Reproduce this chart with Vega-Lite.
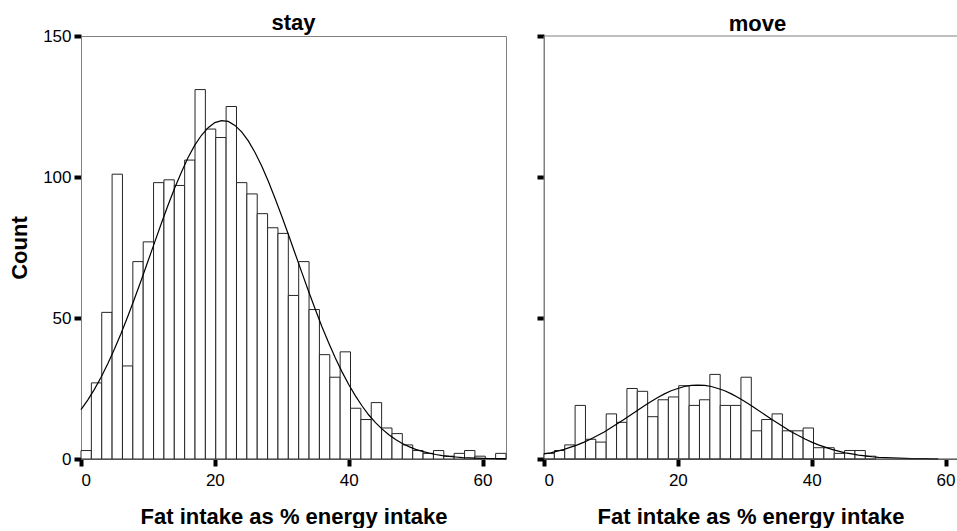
{
  "$schema": "https://vega.github.io/schema/vega-lite/v6.json",
  "padding": {"left": 8, "top": 11, "right": 0, "bottom": 0},
  "autosize": {"type": "pad"},
  "background": "white",
  "spacing": 26,
  "config": {
    "font": "Liberation Sans",
    "view": {"stroke": "#808080", "strokeWidth": 1},
    "title": {"font": "Liberation Sans", "fontSize": 22, "fontWeight": "bold", "color": "black", "anchor": "middle", "baseline": "alphabetic", "offset": -8, "frame": "group"},
    "axis": {
      "labelFont": "Liberation Sans", "labelFontSize": 17, "labelColor": "black",
      "titleFont": "Liberation Sans", "titleFontSize": 22, "titleFontWeight": "bold", "titleColor": "black",
      "tickColor": "black", "tickWidth": 4, "tickSize": 7,
      "domain": true, "domainColor": "#808080", "domainWidth": 1, "grid": false
    },
    "axisX": {"labelPadding": 6, "titlePadding": 18, "labelAngle": 0},
    "axisY": {"labelPadding": 3, "titlePadding": 11}
  },
  "datasets": {
    "bars": [
      {"g": "stay", "a": 0, "b": 1.549, "n": 3},
      {"g": "stay", "a": 1.549, "b": 3.098, "n": 27},
      {"g": "stay", "a": 3.098, "b": 4.646, "n": 52},
      {"g": "stay", "a": 4.646, "b": 6.195, "n": 101},
      {"g": "stay", "a": 6.195, "b": 7.744, "n": 33},
      {"g": "stay", "a": 7.744, "b": 9.293, "n": 70},
      {"g": "stay", "a": 9.293, "b": 10.841, "n": 77},
      {"g": "stay", "a": 10.841, "b": 12.39, "n": 98},
      {"g": "stay", "a": 12.39, "b": 13.939, "n": 99},
      {"g": "stay", "a": 13.939, "b": 15.488, "n": 97},
      {"g": "stay", "a": 15.488, "b": 17.037, "n": 106},
      {"g": "stay", "a": 17.037, "b": 18.585, "n": 131},
      {"g": "stay", "a": 18.585, "b": 20.134, "n": 117},
      {"g": "stay", "a": 20.134, "b": 21.683, "n": 114},
      {"g": "stay", "a": 21.683, "b": 23.232, "n": 125},
      {"g": "stay", "a": 23.232, "b": 24.78, "n": 98},
      {"g": "stay", "a": 24.78, "b": 26.329, "n": 94},
      {"g": "stay", "a": 26.329, "b": 27.878, "n": 87},
      {"g": "stay", "a": 27.878, "b": 29.427, "n": 82},
      {"g": "stay", "a": 29.427, "b": 30.976, "n": 80},
      {"g": "stay", "a": 30.976, "b": 32.524, "n": 58},
      {"g": "stay", "a": 32.524, "b": 34.073, "n": 70},
      {"g": "stay", "a": 34.073, "b": 35.622, "n": 53},
      {"g": "stay", "a": 35.622, "b": 37.171, "n": 37},
      {"g": "stay", "a": 37.171, "b": 38.72, "n": 29},
      {"g": "stay", "a": 38.72, "b": 40.268, "n": 38},
      {"g": "stay", "a": 40.268, "b": 41.817, "n": 18},
      {"g": "stay", "a": 41.817, "b": 43.366, "n": 14},
      {"g": "stay", "a": 43.366, "b": 44.915, "n": 20},
      {"g": "stay", "a": 44.915, "b": 46.463, "n": 11},
      {"g": "stay", "a": 46.463, "b": 48.012, "n": 9},
      {"g": "stay", "a": 48.012, "b": 49.561, "n": 5},
      {"g": "stay", "a": 49.561, "b": 51.11, "n": 3},
      {"g": "stay", "a": 51.11, "b": 52.659, "n": 2},
      {"g": "stay", "a": 52.659, "b": 54.207, "n": 3},
      {"g": "stay", "a": 54.207, "b": 55.756, "n": 1},
      {"g": "stay", "a": 55.756, "b": 57.305, "n": 2},
      {"g": "stay", "a": 57.305, "b": 58.854, "n": 3},
      {"g": "stay", "a": 58.854, "b": 60.402, "n": 1},
      {"g": "stay", "a": 61.951, "b": 63.5, "n": 2},
      {"g": "move", "a": 0, "b": 1.549, "n": 2},
      {"g": "move", "a": 1.549, "b": 3.098, "n": 3},
      {"g": "move", "a": 3.098, "b": 4.646, "n": 5},
      {"g": "move", "a": 4.646, "b": 6.195, "n": 19},
      {"g": "move", "a": 6.195, "b": 7.744, "n": 7},
      {"g": "move", "a": 7.744, "b": 9.293, "n": 6},
      {"g": "move", "a": 9.293, "b": 10.841, "n": 16},
      {"g": "move", "a": 10.841, "b": 12.39, "n": 13},
      {"g": "move", "a": 12.39, "b": 13.939, "n": 25},
      {"g": "move", "a": 13.939, "b": 15.488, "n": 24},
      {"g": "move", "a": 15.488, "b": 17.037, "n": 15},
      {"g": "move", "a": 17.037, "b": 18.585, "n": 21},
      {"g": "move", "a": 18.585, "b": 20.134, "n": 22},
      {"g": "move", "a": 20.134, "b": 21.683, "n": 26},
      {"g": "move", "a": 21.683, "b": 23.232, "n": 19},
      {"g": "move", "a": 23.232, "b": 24.78, "n": 21},
      {"g": "move", "a": 24.78, "b": 26.329, "n": 30},
      {"g": "move", "a": 26.329, "b": 27.878, "n": 19},
      {"g": "move", "a": 27.878, "b": 29.427, "n": 19},
      {"g": "move", "a": 29.427, "b": 30.976, "n": 29},
      {"g": "move", "a": 30.976, "b": 32.524, "n": 10},
      {"g": "move", "a": 32.524, "b": 34.073, "n": 14},
      {"g": "move", "a": 34.073, "b": 35.622, "n": 16},
      {"g": "move", "a": 35.622, "b": 37.171, "n": 10},
      {"g": "move", "a": 37.171, "b": 38.72, "n": 10},
      {"g": "move", "a": 38.72, "b": 40.268, "n": 11},
      {"g": "move", "a": 40.268, "b": 41.817, "n": 4},
      {"g": "move", "a": 41.817, "b": 43.366, "n": 4},
      {"g": "move", "a": 43.366, "b": 44.915, "n": 2},
      {"g": "move", "a": 44.915, "b": 46.463, "n": 3},
      {"g": "move", "a": 46.463, "b": 48.012, "n": 3},
      {"g": "move", "a": 48.012, "b": 49.561, "n": 1}
    ],
    "curve": [
      {"g": "stay", "x": 0, "y": 17.5}, {"g": "stay", "x": 1, "y": 20.9}, {"g": "stay", "x": 2, "y": 24.7}, {"g": "stay", "x": 3, "y": 29.0},
      {"g": "stay", "x": 4, "y": 33.8}, {"g": "stay", "x": 5, "y": 39.0}, {"g": "stay", "x": 6, "y": 44.6}, {"g": "stay", "x": 7, "y": 50.6},
      {"g": "stay", "x": 8, "y": 56.9}, {"g": "stay", "x": 9, "y": 63.4}, {"g": "stay", "x": 10, "y": 70.1}, {"g": "stay", "x": 11, "y": 76.8},
      {"g": "stay", "x": 12, "y": 83.5}, {"g": "stay", "x": 13, "y": 90.0}, {"g": "stay", "x": 14, "y": 96.1}, {"g": "stay", "x": 15, "y": 101.7},
      {"g": "stay", "x": 16, "y": 106.9}, {"g": "stay", "x": 17, "y": 111.3}, {"g": "stay", "x": 18, "y": 114.8}, {"g": "stay", "x": 19, "y": 117.5},
      {"g": "stay", "x": 20, "y": 119.3}, {"g": "stay", "x": 21, "y": 120.0}, {"g": "stay", "x": 22, "y": 119.7}, {"g": "stay", "x": 23, "y": 118.3},
      {"g": "stay", "x": 24, "y": 116.0}, {"g": "stay", "x": 25, "y": 112.8}, {"g": "stay", "x": 26, "y": 108.7}, {"g": "stay", "x": 27, "y": 103.9},
      {"g": "stay", "x": 28, "y": 98.4}, {"g": "stay", "x": 29, "y": 92.4}, {"g": "stay", "x": 30, "y": 86.1}, {"g": "stay", "x": 31, "y": 79.5},
      {"g": "stay", "x": 32, "y": 72.8}, {"g": "stay", "x": 33, "y": 66.1}, {"g": "stay", "x": 34, "y": 59.5}, {"g": "stay", "x": 35, "y": 53.1},
      {"g": "stay", "x": 36, "y": 46.9}, {"g": "stay", "x": 37, "y": 41.2}, {"g": "stay", "x": 38, "y": 35.8}, {"g": "stay", "x": 39, "y": 30.9},
      {"g": "stay", "x": 40, "y": 26.4}, {"g": "stay", "x": 41, "y": 22.4}, {"g": "stay", "x": 42, "y": 18.8}, {"g": "stay", "x": 43, "y": 15.6},
      {"g": "stay", "x": 44, "y": 12.9}, {"g": "stay", "x": 45, "y": 10.6}, {"g": "stay", "x": 46, "y": 8.6}, {"g": "stay", "x": 47, "y": 6.9},
      {"g": "stay", "x": 48, "y": 5.5}, {"g": "stay", "x": 49, "y": 4.4}, {"g": "stay", "x": 50, "y": 3.4}, {"g": "stay", "x": 51, "y": 2.7},
      {"g": "stay", "x": 52, "y": 2.1}, {"g": "stay", "x": 53, "y": 1.6}, {"g": "stay", "x": 54, "y": 1.2}, {"g": "stay", "x": 55, "y": 0.9},
      {"g": "stay", "x": 56, "y": 0.7}, {"g": "stay", "x": 57, "y": 0.5}, {"g": "stay", "x": 58, "y": 0.4}, {"g": "stay", "x": 59, "y": 0.3},
      {"g": "stay", "x": 60, "y": 0.2}, {"g": "stay", "x": 61, "y": 0.1}, {"g": "stay", "x": 62, "y": 0.1}, {"g": "stay", "x": 63, "y": 0.1},
      {"g": "stay", "x": 63.5, "y": 0.05},
      {"g": "move", "x": 0, "y": 1.8}, {"g": "move", "x": 1, "y": 2.2}, {"g": "move", "x": 2, "y": 2.8}, {"g": "move", "x": 3, "y": 3.4},
      {"g": "move", "x": 4, "y": 4.2}, {"g": "move", "x": 5, "y": 5.0}, {"g": "move", "x": 6, "y": 6.0}, {"g": "move", "x": 7, "y": 7.1},
      {"g": "move", "x": 8, "y": 8.3}, {"g": "move", "x": 9, "y": 9.6}, {"g": "move", "x": 10, "y": 11.1}, {"g": "move", "x": 11, "y": 12.6},
      {"g": "move", "x": 12, "y": 14.1}, {"g": "move", "x": 13, "y": 15.7}, {"g": "move", "x": 14, "y": 17.3}, {"g": "move", "x": 15, "y": 18.9},
      {"g": "move", "x": 16, "y": 20.4}, {"g": "move", "x": 17, "y": 21.8}, {"g": "move", "x": 18, "y": 23.1}, {"g": "move", "x": 19, "y": 24.2},
      {"g": "move", "x": 20, "y": 25.0}, {"g": "move", "x": 21, "y": 25.7}, {"g": "move", "x": 22, "y": 26.1}, {"g": "move", "x": 23, "y": 26.2},
      {"g": "move", "x": 24, "y": 26.1}, {"g": "move", "x": 25, "y": 25.7}, {"g": "move", "x": 26, "y": 25.0}, {"g": "move", "x": 27, "y": 24.2},
      {"g": "move", "x": 28, "y": 23.1}, {"g": "move", "x": 29, "y": 21.8}, {"g": "move", "x": 30, "y": 20.4}, {"g": "move", "x": 31, "y": 18.9},
      {"g": "move", "x": 32, "y": 17.3}, {"g": "move", "x": 33, "y": 15.7}, {"g": "move", "x": 34, "y": 14.1}, {"g": "move", "x": 35, "y": 12.6},
      {"g": "move", "x": 36, "y": 11.1}, {"g": "move", "x": 37, "y": 9.6}, {"g": "move", "x": 38, "y": 8.3}, {"g": "move", "x": 39, "y": 7.1},
      {"g": "move", "x": 40, "y": 6.0}, {"g": "move", "x": 41, "y": 5.0}, {"g": "move", "x": 42, "y": 4.2}, {"g": "move", "x": 43, "y": 3.4},
      {"g": "move", "x": 44, "y": 2.8}, {"g": "move", "x": 45, "y": 2.2}, {"g": "move", "x": 46, "y": 1.8}, {"g": "move", "x": 47, "y": 1.4},
      {"g": "move", "x": 48, "y": 1.1}, {"g": "move", "x": 49, "y": 0.8}, {"g": "move", "x": 50, "y": 0.6}, {"g": "move", "x": 51, "y": 0.5},
      {"g": "move", "x": 52, "y": 0.4}, {"g": "move", "x": 53, "y": 0.3}, {"g": "move", "x": 54, "y": 0.2}, {"g": "move", "x": 55, "y": 0.1},
      {"g": "move", "x": 56, "y": 0.1}, {"g": "move", "x": 57, "y": 0.1}, {"g": "move", "x": 58, "y": 0.05}, {"g": "move", "x": 58.9, "y": 0.03}
    ],
    "frame": [{"top": 150, "bottom": 0, "left": 0}]
  },
  "hconcat": [
    {
      "width": 425,
      "height": 423,
      "title": {"text": "stay"},
      "layer": [
        {
          "data": {"name": "bars"},
          "transform": [{"filter": "datum.g === 'stay'"}],
          "mark": {"type": "rect", "fill": "white", "stroke": "#262626", "strokeWidth": 1},
          "encoding": {
            "x": {"field": "a", "type": "quantitative", "scale": {"domain": [0, 63.5], "nice": false, "zero": false}, "axis": {"values": [0, 20, 40, 60], "title": "Fat intake as % energy intake"}},
            "x2": {"field": "b"},
            "y": {"field": "n", "type": "quantitative", "scale": {"domain": [0, 150], "nice": false}, "axis": {"values": [0, 50, 100, 150], "title": "Count"}},
            "y2": {"datum": 0}
          }
        },
        {
          "data": {"name": "curve"},
          "transform": [{"filter": "datum.g === 'stay'"}],
          "mark": {"type": "line", "color": "black", "strokeWidth": 1.2},
          "encoding": {
            "x": {"field": "x", "type": "quantitative"},
            "y": {"field": "y", "type": "quantitative"}
          }
        }
      ]
    },
    {
      "width": 413,
      "height": 423,
      "title": {"text": "move", "dx": 7, "offset": -2},
      "view": {"stroke": null},
      "layer": [
        {
          "data": {"name": "frame"},
          "mark": {"type": "rule", "color": "#808080", "strokeWidth": 1},
          "encoding": {"y": {"field": "top", "type": "quantitative"}}
        },
        {
          "data": {"name": "frame"},
          "mark": {"type": "rule", "color": "#808080", "strokeWidth": 1},
          "encoding": {"x": {"field": "left", "type": "quantitative"}}
        },
        {
          "data": {"name": "bars"},
          "transform": [{"filter": "datum.g === 'move'"}],
          "mark": {"type": "rect", "fill": "white", "stroke": "#262626", "strokeWidth": 1},
          "encoding": {
            "x": {"field": "a", "type": "quantitative", "scale": {"domain": [0, 61.71], "nice": false, "zero": false}, "axis": {"values": [0, 20, 40, 60], "title": "Fat intake as % energy intake"}},
            "x2": {"field": "b"},
            "y": {"field": "n", "type": "quantitative", "scale": {"domain": [0, 150], "nice": false}, "axis": {"values": [0, 50, 100, 150], "labels": false, "title": null}},
            "y2": {"datum": 0}
          }
        },
        {
          "data": {"name": "curve"},
          "transform": [{"filter": "datum.g === 'move'"}],
          "mark": {"type": "line", "color": "black", "strokeWidth": 1.2},
          "encoding": {
            "x": {"field": "x", "type": "quantitative"},
            "y": {"field": "y", "type": "quantitative"}
          }
        },
        {
          "data": {"name": "frame"},
          "mark": {"type": "rule", "color": "#404040", "strokeWidth": 1},
          "encoding": {"y": {"field": "bottom", "type": "quantitative"}}
        }
      ]
    }
  ]
}
